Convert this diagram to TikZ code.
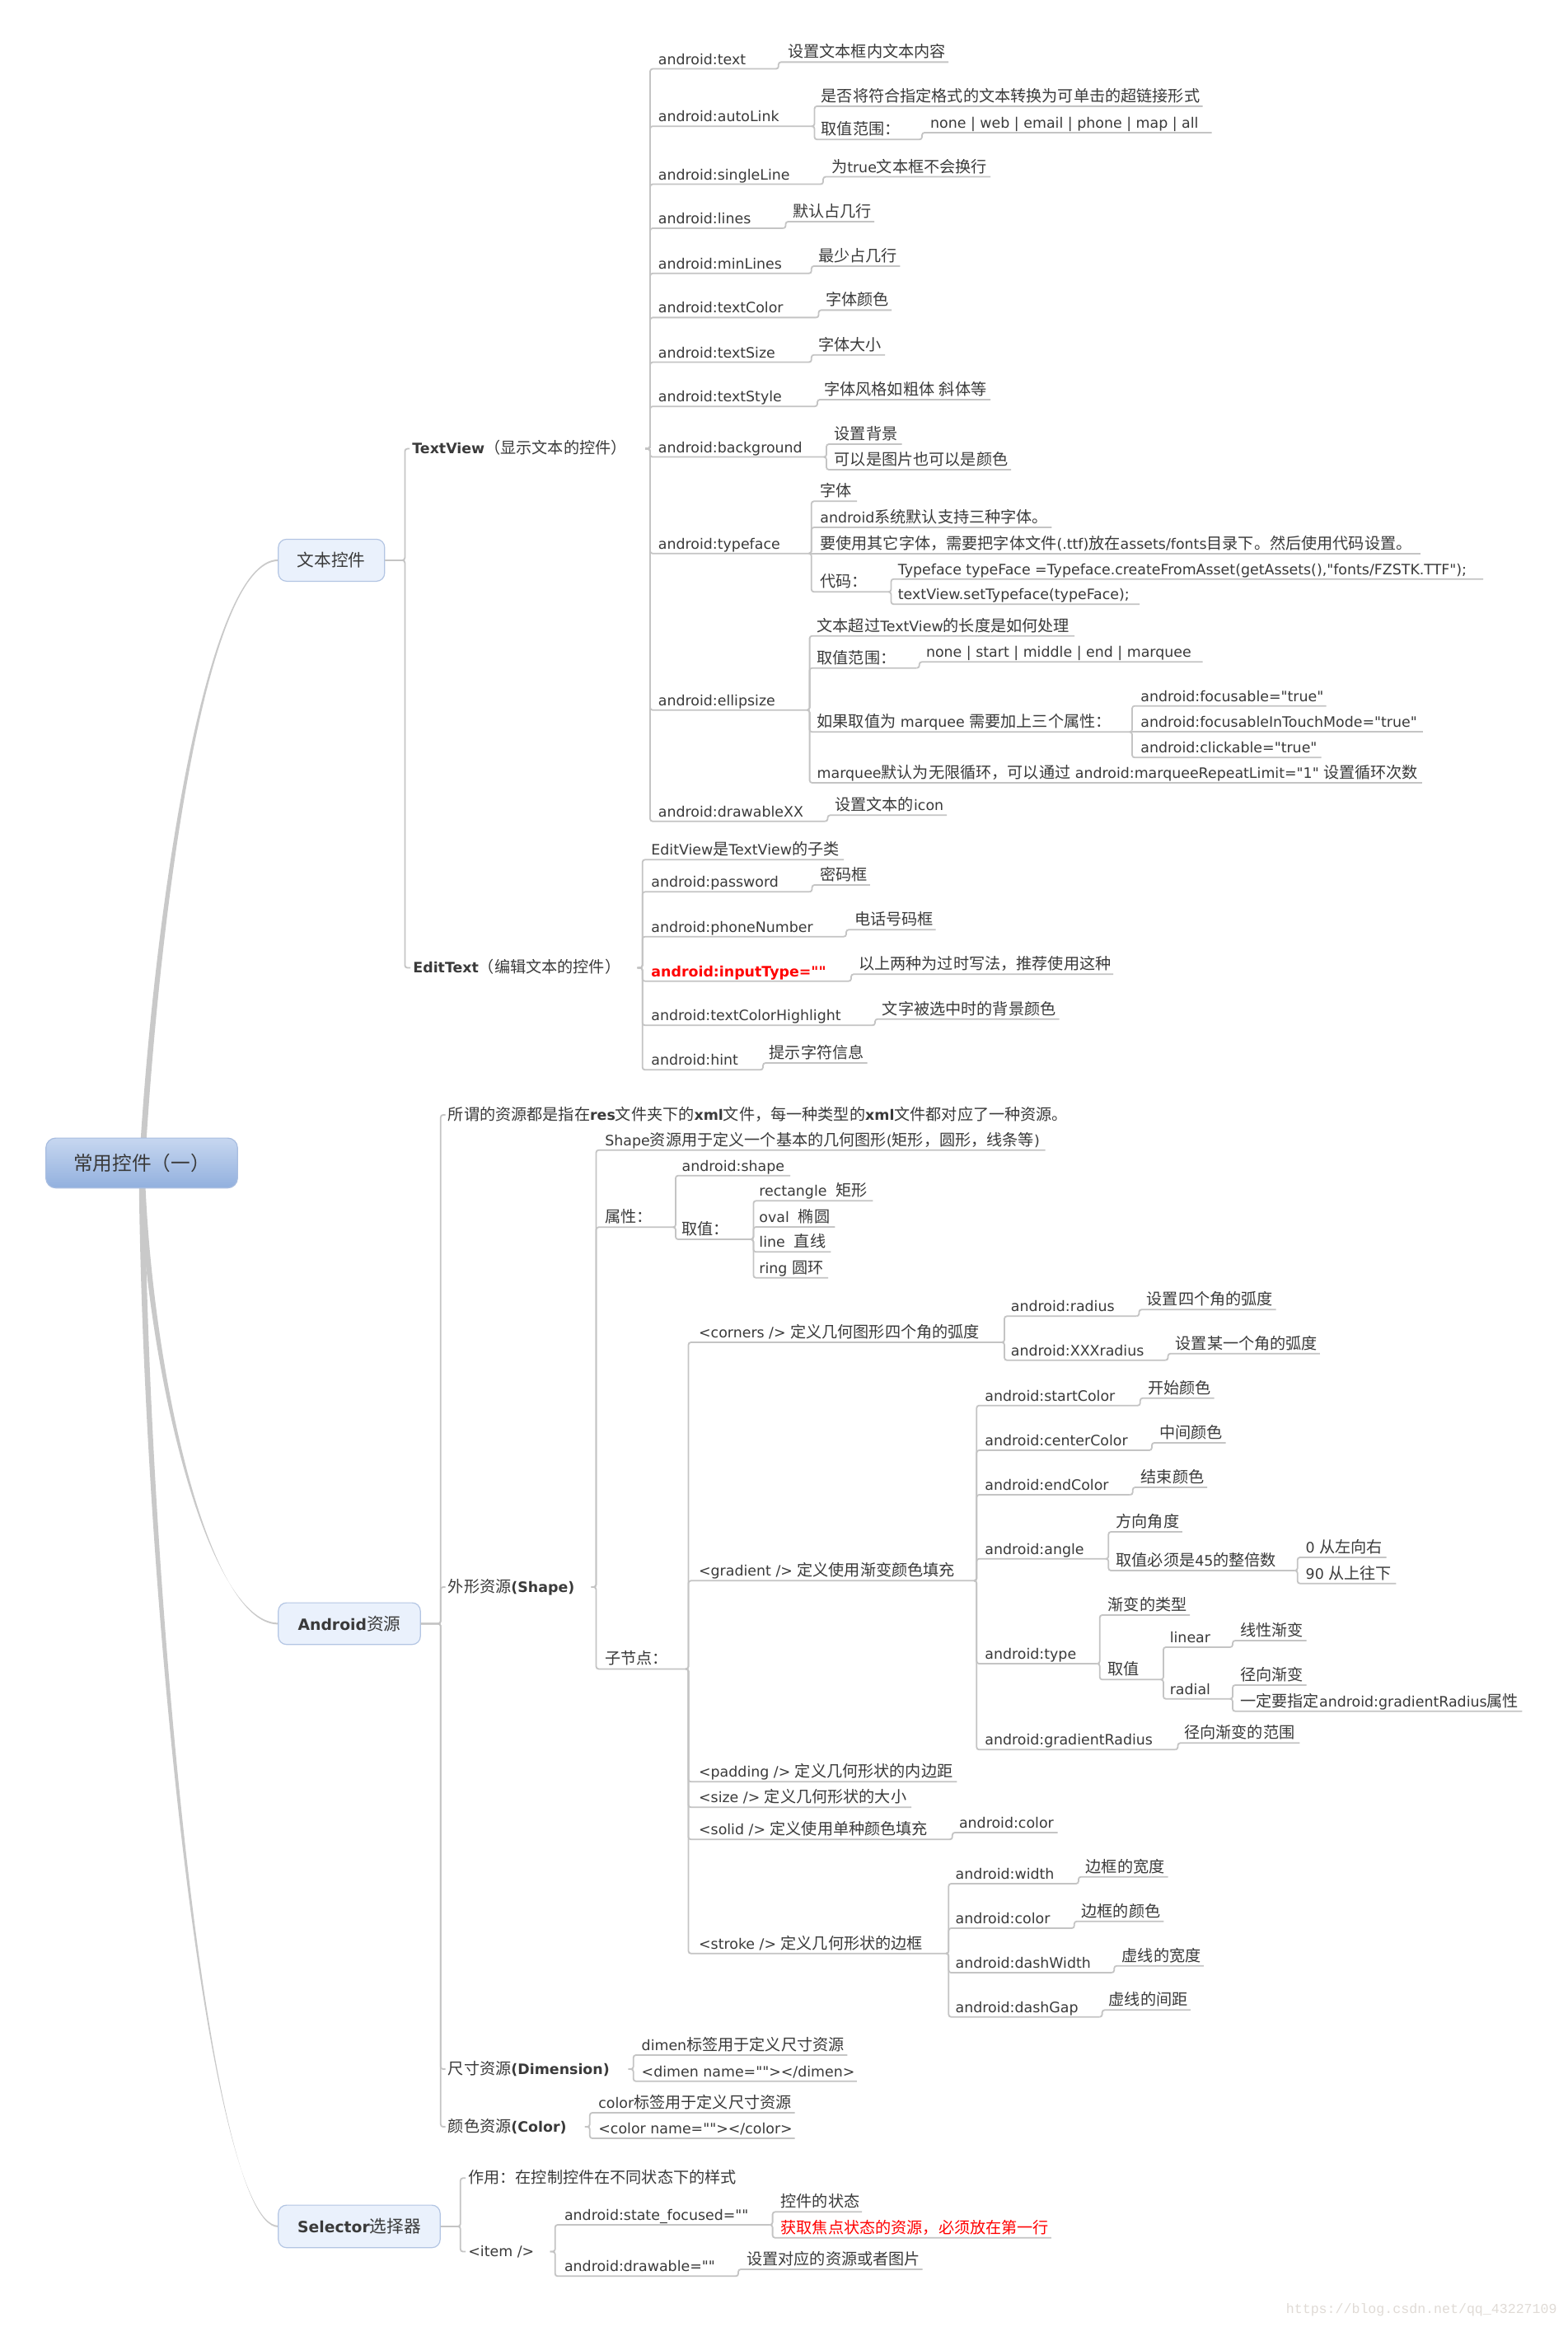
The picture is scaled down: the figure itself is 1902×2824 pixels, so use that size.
\documentclass[tikz,border=0pt]{standalone}
\usepackage{fontspec}
\setmainfont{DejaVu Sans}
\newfontfamily\latinfont{DejaVu Sans}
\newfontfamily\cjkfont[Scale=1.1]{Noto Sans CJK SC}
\newfontfamily\wmfont{Liberation Mono}
\usepackage{tikz}

% Chinese characters are set in the CJK font, the rest in DejaVu Sans
\XeTeXinterchartokenstate=1
\newXeTeXintercharclass\hanclass
\newcommand\sethan[2]{\count255=#1\relax
  \loop\XeTeXcharclass\count255=\hanclass
  \ifnum\count255<#2\relax\advance\count255 by 1\relax\repeat}
\sethan{"3000}{"303F}
\sethan{"4E00}{"9FFF}
\sethan{"FF00}{"FFEF}
\XeTeXinterchartoks 0 \hanclass={\cjkfont}
\XeTeXinterchartoks 4095 \hanclass={\cjkfont}
\XeTeXinterchartoks \hanclass 0={\latinfont}
\XeTeXinterchartoks \hanclass 4095={\latinfont}

\definecolor{txt}{HTML}{3A3A3A}
\definecolor{ln}{HTML}{C4C4C4}
\definecolor{trunkc}{HTML}{C9C9C9}
\definecolor{boxbg}{HTML}{EAF1FC}
\definecolor{boxln}{HTML}{B3C5E3}
\definecolor{roottop}{HTML}{C7D7F0}
\definecolor{rootbot}{HTML}{92B0DE}
\definecolor{rootln}{HTML}{A8BDE0}
\definecolor{wm}{HTML}{E0DBD6}

\begin{document}
\begin{tikzpicture}[x=0.5pt,y=-0.5pt,
 leaf/.style={anchor=base west,inner sep=0pt,text=txt,font=\latinfont\fontsize{8.7}{10.4}\selectfont},
 lbl/.style={anchor=west,inner xsep=1.5pt,inner ysep=0pt,text height=7.5pt,text depth=1.2pt,text=txt,font=\latinfont\fontsize{8.7}{10.4}\selectfont},
 topic/.style={draw=boxln,fill=boxbg,line width=0.6pt,rounded corners=5pt,text=txt,font=\latinfont\fontsize{9.4}{11}\selectfont},
 branch/.style={draw=ln,line width=0.9pt,rounded corners=1.5pt},
 trunk/.style={fill=trunkc}]
\useasboundingbox (0,0) rectangle (1902,2824);
\fill[white] (0,0) rectangle (1902,2824);

% main branches out of the root
\fill[trunk] (169,1411) .. controls (187,1100) and (250,678.9) .. (337.8,678.9)
   -- (337.8,680.9) .. controls (250,680.9) and (194,1100) .. (176,1411) -- cycle;
\fill[trunk] (168.5,1411) .. controls (174.5,1650) and (250,1969.4) .. (337.8,1969.4)
   -- (337.8,1971.4) .. controls (250,1971.4) and (181.5,1650) .. (175.5,1411) -- cycle;
\fill[trunk] (168.5,1411) .. controls (171.5,1900) and (250,2700.9) .. (337.8,2700.9)
   -- (337.8,2702.9) .. controls (250,2702.9) and (178.5,1900) .. (175.5,1411) -- cycle;

\node[draw=rootln,line width=0.6pt,top color=roottop,bottom color=rootbot,rounded corners=6pt,
   minimum width=116.3pt,minimum height=30.3pt,text=txt,font=\latinfont\fontsize{10.75}{13}\selectfont]
   (root) at (172,1411.4) {常用控件（一）};
\node[topic,minimum width=64.5pt,minimum height=25.5pt] (wb) at (402.3,679.9) {文本控件};
\node[topic,minimum width=86.2pt,minimum height=25.3pt] (ab) at (424,1970.4) {\textbf{Android}资源};
\node[topic,minimum width=98.2pt,minimum height=25.8pt] (sb) at (436,2701.9) {\textbf{Selector}选择器};

% second level
\node[lbl] (tv) at (497,544.6) {\textbf{TextView}（显示文本的控件）};
\node[lbl] (et) at (498,1174.5) {\textbf{EditText}（编辑文本的控件）};
\node[lbl] (a1) at (540.5,1353) {所谓的资源都是指在\textbf{res}文件夹下的\textbf{xml}文件，每一种类型的\textbf{xml}文件都对应了一种资源。};
\node[lbl] (a2) at (540.5,1926) {外形资源\textbf{(Shape)}};
\node[lbl] (a3) at (540.5,2511) {尺寸资源\textbf{(Dimension)}};
\node[lbl] (a4) at (540.5,2581) {颜色资源\textbf{(Color)}};
\node[lbl] (r1) at (565,2643.3) {作用：在控制控件在不同状态下的样式};
\node[lbl] (r2) at (565,2732.5) {<item />};
\coordinate (tv-e) at (783,544.6);
\coordinate (et-e) at (773.7,1174.5);
\coordinate (a2-e) at (717.5,1926);
\coordinate (a3-e) at (762.7,2511);
\coordinate (a4-e) at (709.8,2581);
\coordinate (r2-e) at (667.7,2732.5);

% TextView
\foreach \nm/\x/\xe/\yu/\txt in {%
 t1/798.5/941.8/83.6/{android:text},
 t1a/956/1151/75.4/{设置文本框内文本内容},
 t2/798.5/985.5/153.2/{android:autoLink},
 t2a/996.4/1459.6/128.9/{是否将符合指定格式的文本转换为可单击的超链接形式},
 t2b/996.4/1116/169.3/{取值范围：},
 t2c/1128.7/1470.5/161/{none | web | email | phone | map | all},
 t3/798.5/996/223.6/{android:singleLine},
 t3a/1008.7/1202/214.6/{为true文本框不会换行},
 t4/798.5/950.5/277/{android:lines},
 t4a/962/1061/269/{默认占几行},
 t5/798.5/981.8/331.8/{android:minLines},
 t5a/992.7/1092.4/322.9/{最少占几行},
 t6/798.5/990.5/385.4/{android:textColor},
 t6a/1002/1082/376.4/{字体颜色},
 t7/798.5/981.8/439.6/{android:textSize},
 t7a/992.7/1074/430.7/{字体大小},
 t8/798.5/989/493.2/{android:textStyle},
 t8a/1000/1202/485/{字体风格如粗体 斜体等},
 t9/798.5/1000/554.6/{android:background},
 t9a/1012.4/1094.5/539/{设置背景},
 t9b/1012.4/1227/570/{可以是图片也可以是颜色},
 t10/798.5/981.8/671.7/{android:typeface},
 t10a/995/1040/608.3/{字体},
 t10b/995/1276.4/640/{android系统默认支持三种字体。},
 t10c/995/1723.6/671.7/{要使用其它字体，需要把字体文件(.ttf)放在assets/fonts目录下。然后使用代码设置。},
 t10d/995/1078.5/718.3/{代码：},
 t10e/1089.5/1800/702.7/{Typeface typeFace =Typeface.createFromAsset(getAssets(),"fonts/FZSTK.TTF");},
 t10f/1089.5/1383/733.3/{textView.setTypeface(typeFace);},
 t11/798.5/979.6/861.7/{android:ellipsize},
 t11a/991.3/1304/771.7/{文本超过TextView的长度是如何处理},
 t11b/991.3/1112.7/810.7/{取值范围：},
 t11c/1123.6/1459.6/803.3/{none | start | middle | end | marquee},
 t11d/991.3/1371/888.3/{如果取值为 marquee 需要加上三个属性：},
 t11e/1384/1609.5/856.7/{android:focusable="true"},
 t11f/1384/1727/888.3/{android:focusableInTouchMode="true"},
 t11g/1384/1603.6/919.3/{android:clickable="true"},
 t11h/991.3/1725.8/950/{marquee默认为无限循环，可以通过 android:marqueeRepeatLimit="1" 设置循环次数},
 t12/798.5/1001.5/996.7/{android:drawableXX},
 t12a/1013/1149/989.3/{设置文本的icon}} {
   \node[leaf] (\nm) at (\x,\yu-5.5) {\txt};
   \coordinate (\nm-e) at (\xe,\yu);
}

% EditText
\foreach \nm/\x/\xe/\yu/\txt in {%
 e1/790/1024/1043.3/{EditView是TextView的子类},
 e2/790/982.5/1082.3/{android:password},
 e2a/995.3/1055.9/1074/{密码框},
 e3/790/1024/1136.7/{android:phoneNumber},
 e3a/1036.7/1135.6/1128.3/{电话号码框},
 e4/790/1030/1190.7/{\textbf{\textcolor{red}{android:inputType=""}}},
 e4a/1041.8/1351/1182.3/{以上两种为过时写法，推荐使用这种},
 e5/790/1059/1244.3/{android:textColorHighlight},
 e5a/1070.5/1285.5/1236.7/{文字被选中时的背景颜色},
 e6/790/923/1298.3/{android:hint},
 e6a/933.4/1052.7/1290/{提示字符信息}} {
   \node[leaf] (\nm) at (\x,\yu-5.5) {\txt};
   \coordinate (\nm-e) at (\xe,\yu);
}

% Shape
\foreach \nm/\x/\xe/\yu/\txt in {%
 s1/734/1268.5/1395.7/{Shape资源用于定义一个基本的几何图形(矩形，圆形，线条等)},
 s2/734/817/1489.3/{属性：},
 s2a/827.2/959.2/1426.7/{android:shape},
 s2b/827.2/911.4/1504/{取值：},
 s2c/921/1059.3/1457.3/{rectangle\ \ 矩形},
 s2d/921/1013.4/1489/{oval\ \ 椭圆},
 s2e/921/1008.3/1519.3/{line\ \ 直线},
 s2f/921/1005/1550.7/{ring 圆环},
 s3/734/832.5/2025.4/{子节点：},
 c1/847.7/1216/1629/{<corners /> 定义几何图形四个角的弧度},
 c1a/1226.5/1379.4/1597.3/{android:radius},
 c1b/1391.4/1548.5/1589.3/{设置四个角的弧度},
 c1c/1226.5/1414.5/1650.7/{android:XXXradius},
 c1d/1426.4/1601.8/1642.7/{设置某一个角的弧度},
 c2/847.7/1182.3/1918.3/{<gradient /> 定义使用渐变颜色填充},
 g1/1195/1380.8/1705.7/{android:startColor},
 g1a/1392.8/1473.5/1696.7/{开始颜色},
 g2/1195/1394.9/1760/{android:centerColor},
 g2a/1406.8/1487.5/1751/{中间颜色},
 g3/1195/1371.7/1814/{android:endColor},
 g3a/1384.4/1465/1805/{结束颜色},
 g4/1195/1342.3/1891.7/{android:angle},
 g4a/1354.2/1434.9/1859/{方向角度},
 g4b/1354.2/1571.7/1906/{取值必须是45的整倍数},
 g4c/1584.3/1682.5/1890/{0 从左向右},
 g4d/1584.3/1694.4/1921.7/{90 从上往下},
 g5/1195/1331.7/2019/{android:type},
 g5a/1344.4/1444/1960/{渐变的类型},
 g5b/1344.4/1408.9/2038.3/{取值},
 g5c/1419.4/1493/1999/{linear},
 g5d/1505/1585.7/1991/{线性渐变},
 g5e/1419.4/1493/2061.7/{radial},
 g5f/1505/1585.7/2045/{径向渐变},
 g5g/1505/1847.4/2076.7/{一定要指定android:gradientRadius属性},
 g6/1195/1426.4/2123.3/{android:gradientRadius},
 g6a/1437/1577.3/2115.3/{径向渐变的范围},
 c3/847.7/1161.3/2162.3/{<padding /> 定义几何形状的内边距},
 c4/847.7/1106.2/2193.3/{<size /> 定义几何形状的大小},
 c5/847.7/1152.8/2232.3/{<solid /> 定义使用单种颜色填充},
 c5a/1163.6/1283.5/2224/{android:color},
 c6/847.7/1148.3/2370.7/{<stroke /> 定义几何形状的边框},
 k1/1159.2/1305.9/2286/{android:width},
 k1a/1317.3/1417.5/2277.7/{边框的宽度},
 k2/1159.2/1300.8/2340/{android:color},
 k2a/1312.2/1412.4/2331.7/{边框的颜色},
 k3/1159.2/1349.2/2394/{android:dashWidth},
 k3a/1361.4/1460.8/2385.7/{虚线的宽度},
 k4/1159.2/1334.6/2447.7/{android:dashGap},
 k4a/1345.4/1444.9/2439.3/{虚线的间距}} {
   \node[leaf] (\nm) at (\x,\yu-5.5) {\txt};
   \coordinate (\nm-e) at (\xe,\yu);
}

% Dimension, Color, Selector
\foreach \nm/\x/\xe/\yu/\txt in {%
 d1/778.3/1028.3/2494/{dimen标签用于定义尺寸资源},
 d2/778.3/1039.8/2525.7/{<dimen name=""></dimen>},
 o1/726/964.5/2564/{color标签用于定义尺寸资源},
 o2/726/964.5/2595/{<color name=""></color>},
 i1/684.6/934.6/2700/{android:state\_focused=""},
 i1a/947.3/1046/2684.3/{控件的状态},
 i1b/947.3/1275.8/2715.7/{\textcolor{red}{获取焦点状态的资源，必须放在第一行}},
 i2/684.6/893/2762.3/{android:drawable=""},
 i2a/905.9/1119.5/2754/{设置对应的资源或者图片}} {
   \node[leaf] (\nm) at (\x,\yu-5.5) {\txt};
   \coordinate (\nm-e) at (\xe,\yu);
}

% connectors
\foreach \k in {tv,et} \draw[branch] (wb.east) -- ++(24,0) |- (\k.west);
\foreach \k in {a1,a2,a3,a4} \draw[branch] (ab.east) -- ++(24,0) |- (\k.west);
\foreach \k in {r1,r2} \draw[branch] (sb.east) -- ++(24,0) |- (\k.west);
\foreach \p/\kids in {tv/{t1,t2,t3,t4,t5,t6,t7,t8,t9,t10,t11,t12},
   et/{e1,e2,e3,e4,e5,e6}, a2/{s1,s2,s3}, a3/{d1,d2}, a4/{o1,o2}, r2/{i1,i2}}
   \foreach \k in \kids \draw[branch] (\p-e) -- ++(6,0) |- (\k-e);
\foreach \p/\kids in {t1/{t1a}, t2/{t2a,t2b}, t2b/{t2c}, t3/{t3a}, t4/{t4a}, t5/{t5a},
   t6/{t6a}, t7/{t7a}, t8/{t8a}, t9/{t9a,t9b}, t10/{t10a,t10b,t10d}, t10d/{t10e,t10f},
   t11/{t11a,t11b,t11d,t11h}, t11b/{t11c}, t11d/{t11e,t11g}, t12/{t12a},
   e2/{e2a}, e3/{e3a}, e4/{e4a}, e5/{e5a}, e6/{e6a},
   s2/{s2a,s2b}, s2b/{s2c,s2d,s2e,s2f}, s3/{c1,c2,c3,c4,c5,c6},
   c1/{c1a,c1c}, c1a/{c1b}, c1c/{c1d}, c2/{g1,g2,g3,g4,g5,g6},
   g1/{g1a}, g2/{g2a}, g3/{g3a}, g4/{g4a,g4b}, g4b/{g4c,g4d}, g5/{g5a,g5b},
   g5b/{g5c,g5e}, g5c/{g5d}, g5e/{g5f,g5g}, g6/{g6a}, c5/{c5a},
   c6/{k1,k2,k3,k4}, k1/{k1a}, k2/{k2a}, k3/{k3a}, k4/{k4a},
   i1/{i1a,i1b}, i2/{i2a}}
   \foreach \k in \kids \draw[branch] (\p-e) -- ++(3,0) |- (\k-e);
\draw[branch] (t10-e) -- (t10c-e);
\draw[branch] (t11d-e) -- (t11f-e);

\node[anchor=east,inner sep=0pt,text=wm,font=\wmfont\fontsize{8.3}{10}\selectfont] (wm) at (1890,2803) {https://blog.csdn.net/qq\_43227109};
\end{tikzpicture}
\end{document}
